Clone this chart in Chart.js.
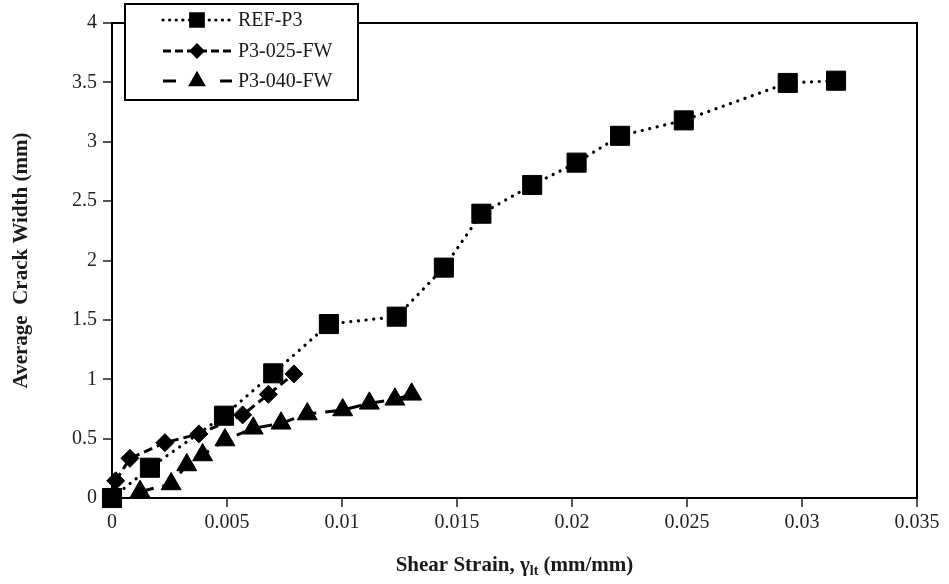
<!DOCTYPE html>
<html>
<head>
<meta charset="utf-8">
<script src="https://cdn.jsdelivr.net/npm/chart.js@4/dist/chart.umd.min.js"></script>
<style>
    body { margin: 0; background: #fff; }
    canvas { display: block; }
</style>
</head>
<body>
<canvas id="crackChart" width="949" height="584"></canvas>
<script>
// Series data
const seriesNames = ['REF-P3', 'P3-025-FW', 'P3-040-FW'];

const refStrain = [0, 0.00165, 0.00487, 0.00701, 0.00943, 0.01238, 0.01443, 0.01606, 0.01827, 0.0202, 0.02209, 0.02486, 0.02938, 0.03148];
const refCrack  = [0, 0.255, 0.693, 1.05, 1.465, 1.527, 1.94, 2.394, 2.636, 2.824, 3.05, 3.18, 3.495, 3.514];

const fw025Strain = [0.00016, 0.00078, 0.0023, 0.00378, 0.00568, 0.0068, 0.00791];
const fw025Crack  = [0.145, 0.334, 0.466, 0.54, 0.70, 0.873, 1.045];

const fw040Strain = [0.00122, 0.00257, 0.00325, 0.00394, 0.00491, 0.00614, 0.00735, 0.00849, 0.01003, 0.01119, 0.0123, 0.01303];
const fw040Crack  = [0.053, 0.118, 0.278, 0.362, 0.488, 0.587, 0.629, 0.707, 0.741, 0.797, 0.831, 0.873];

const xTicks = [0, 0.005, 0.01, 0.015, 0.02, 0.025, 0.03, 0.035];
const yTicks = [0, 0.5, 1, 1.5, 2, 2.5, 3, 3.5, 4];

const SERIF = '"Liberation Serif", "Times New Roman", serif';

function toPoints(xs, ys) {
    return xs.map((x, i) => ({ x: x, y: ys[i] }));
}

/**
 * Frame around the plot area (top and right edges)
 */
const plotFrame = {
    id: 'plotFrame',
    beforeDatasetsDraw(chart) {
        const a = chart.chartArea;
        const ctx = chart.ctx;
        ctx.save();
        ctx.strokeStyle = '#000';
        ctx.lineWidth = 2;
        ctx.beginPath();
        ctx.moveTo(a.left, a.top);
        ctx.lineTo(a.right, a.top);
        ctx.lineTo(a.right, a.bottom);
        ctx.stroke();
        ctx.restore();
    }
};

/**
 * X axis title with the subscript on gamma
 */
const xTitle = {
    id: 'xTitle',
    afterDraw(chart) {
        const ctx = chart.ctx;
        const a = chart.chartArea;
        const main = 'bold 21px ' + SERIF;
        const sub = 'bold 14px ' + SERIF;
        const parts = [
            { t: 'Shear Strain, \u03B3', f: main, dy: 0 },
            { t: 'lt', f: sub, dy: 5 },
            { t: ' (mm/mm)', f: main, dy: 0 }
        ];
        ctx.save();
        let total = 0;
        parts.forEach(p => { ctx.font = p.f; p.w = ctx.measureText(p.t).width; total += p.w; });
        let x = (a.left + a.right) / 2 - total / 2;
        const y = 566;
        ctx.fillStyle = '#1a1a1a';
        ctx.textBaseline = 'middle';
        parts.forEach(p => {
            ctx.font = p.f;
            ctx.fillText(p.t, x, y + p.dy);
            x += p.w;
        });
        ctx.restore();
    }
};

/**
 * Boxed legend showing line style + marker for each series
 */
const boxLegend = {
    id: 'boxLegend',
    afterDraw(chart) {
        const ctx = chart.ctx;
        const box = { x: 125, y: 4, w: 233, h: 96 };
        ctx.save();
        ctx.fillStyle = '#fff';
        ctx.fillRect(box.x, box.y, box.w, box.h);
        ctx.strokeStyle = '#000';
        ctx.lineWidth = 2;
        ctx.strokeRect(box.x, box.y, box.w, box.h);

        const rows = [20, 51, 81];
        chart.data.datasets.forEach((ds, i) => {
            const y = rows[i];
            ctx.save();
            ctx.strokeStyle = '#000';
            ctx.lineWidth = ds.borderWidth;
            ctx.lineCap = ds.borderCapStyle || 'butt';
            ctx.setLineDash(ds.legendDash);
            ctx.beginPath();
            ctx.moveTo(163, y);
            ctx.lineTo(232, y);
            ctx.stroke();
            ctx.restore();
            Chart.helpers.drawPoint(ctx, {
                pointStyle: ds.pointStyle,
                radius: ds.pointRadius * 0.72,
                borderWidth: 1,
                rotation: 0
            }, 197, y);
            ctx.fillStyle = '#000';
            ctx.fill();
            ctx.font = '20px ' + SERIF;
            ctx.fillStyle = '#1a1a1a';
            ctx.textBaseline = 'middle';
            ctx.fillText(ds.label, 238, y + 1);
        });
        ctx.restore();
    }
};

new Chart(document.getElementById('crackChart'), {
    type: 'line',
    data: {
        datasets: [{
            label: seriesNames[0],
            data: toPoints(refStrain, refCrack),
            borderColor: '#000',
            borderWidth: 3.2,
            borderDash: [0.1, 7.6],
            borderCapStyle: 'round',
            legendDash: [0.1, 6.5],
            pointStyle: 'rect',
            pointRadius: 13.5,
            pointBackgroundColor: '#000',
            pointBorderColor: '#000',
            pointBorderWidth: 1,
            clip: false
        }, {
            label: seriesNames[1],
            data: toPoints(fw025Strain, fw025Crack),
            borderColor: '#000',
            borderWidth: 3,
            borderDash: [9, 5],
            legendDash: [8, 4],
            pointStyle: 'rectRot',
            pointRadius: 9,
            pointBackgroundColor: '#000',
            pointBorderColor: '#000',
            pointBorderWidth: 1,
            clip: false
        }, {
            label: seriesNames[2],
            data: toPoints(fw040Strain, fw040Crack),
            borderColor: '#000',
            borderWidth: 3,
            borderDash: [14, 9],
            legendDash: [13, 44],
            pointStyle: 'triangle',
            pointRadius: 11.5,
            pointBackgroundColor: '#000',
            pointBorderColor: '#000',
            pointBorderWidth: 1,
            clip: false
        }]
    },
    options: {
        responsive: false,
        devicePixelRatio: 1,
        animation: false,
        layout: {
            padding: { left: 0, top: 23, right: 32, bottom: 0 }
        },
        plugins: {
            legend: { display: false },
            tooltip: { enabled: false }
        },
        elements: {
            line: { tension: 0 }
        },
        scales: {
            x: {
                type: 'linear',
                min: 0,
                max: 0.035,
                afterBuildTicks: scale => { scale.ticks = xTicks.map(v => ({ value: v })); },
                afterFit: scale => { scale.height = 86; },
                border: { display: true, color: '#000', width: 2 },
                grid: {
                    drawOnChartArea: false,
                    drawTicks: true,
                    tickLength: 9,
                    color: '#555',
                    lineWidth: 2
                },
                ticks: {
                    padding: 4,
                    color: '#222',
                    maxRotation: 0,
                    font: { family: SERIF, size: 20 },
                    callback: v => String(v)
                },
                title: { display: false }
            },
            y: {
                min: 0,
                max: 4,
                afterBuildTicks: scale => { scale.ticks = yTicks.map(v => ({ value: v })); },
                afterFit: scale => { scale.width = 112; },
                border: { display: true, color: '#000', width: 2 },
                grid: {
                    drawOnChartArea: false,
                    drawTicks: true,
                    tickLength: 9,
                    color: '#555',
                    lineWidth: 2
                },
                ticks: {
                    padding: 6,
                    color: '#222',
                    font: { family: SERIF, size: 20 },
                    callback: v => String(v)
                },
                title: {
                    display: true,
                    text: 'Average  Crack Width (mm)',
                    color: '#1a1a1a',
                    font: { family: SERIF, size: 21, weight: 'bold' },
                    padding: { top: 9, bottom: 0 }
                }
            }
        }
    },
    plugins: [plotFrame, xTitle, boxLegend]
});
</script>
</body>
</html>
